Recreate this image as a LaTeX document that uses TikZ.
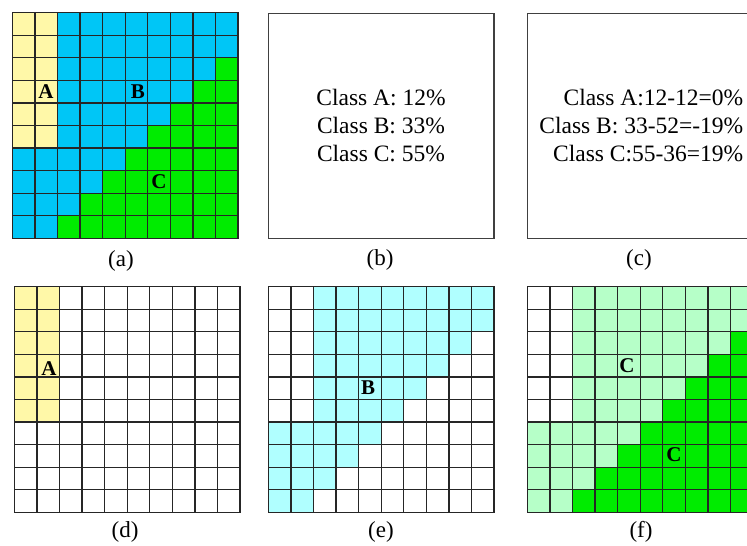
\documentclass[tikz,border=0pt]{standalone}
\usepackage{fontspec}
\setmainfont{Liberation Serif}
\definecolor{cyel}{RGB}{255,248,168}
\definecolor{cblue}{RGB}{0,198,246}
\definecolor{cgreen}{RGB}{0,236,0}
\definecolor{ccyan}{RGB}{176,255,255}
\definecolor{clgreen}{RGB}{182,255,200}
\newcommand\cs{22.57}
\newcommand\gridpanel[5]{%
  \begin{scope}[shift={(#1,#2)}]
    \foreach \ry in {0,...,9}{\foreach \cx in {0,...,9}{%
      \pgfmathtruncatemacro\kk{(\cx<=1 && \ry<=5) ? 1 : ((\cx+\ry>=11) ? 3 : 2)}%
      \ifcase\kk\or\def\cc{#3}\or\def\cc{#4}\or\def\cc{#5}\fi
      \fill[\cc] (\cx*\cs,\ry*\cs) rectangle ++(\cs,\cs);
    }}
    \foreach \i in {0,...,10}{%
      \draw[gridline] (\i*\cs,0) -- (\i*\cs,10*\cs);
      \draw[gridline] (0,\i*\cs) -- (10*\cs,\i*\cs);
    }
  \end{scope}}
\tikzset{
  gridline/.style={black!85, line width=1.3pt, line cap=rect},
  boxline/.style={draw=black!75, line width=1.3pt},
  lbl/.style={font=\fontsize{23}{27}\selectfont, inner sep=0pt},
  ltr/.style={font=\fontsize{21}{24}\bfseries\selectfont, inner sep=0pt},
  cls/.style={font=\fontsize{23.5}{28}\selectfont, inner sep=0pt}
}
\begin{document}
\begin{tikzpicture}[x=1pt,y=-1pt]
\useasboundingbox (0,0) rectangle (747,546);
\clip (0,0) rectangle (747,546);
\fill[white] (0,0) rectangle (747,546);
% (a)
\gridpanel{12.3}{12.6}{cyel}{cblue}{cgreen}
\node[ltr] (la) at (46,92) {A};
\node[ltr] (lb) at (138,92) {B};
\node[ltr] (lc) at (159,182) {C};
% (b)
\draw[boxline] (268.3,13.3) rectangle (494,238.7);
\node[cls, align=center] (tb) at (381,126) {Class A: 12\%\\Class B: 33\%\\Class C: 55\%};
% (c)
\draw[boxline] (527.7,13.3) rectangle (753.7,238.7);
\node[cls, align=right, anchor=east] (tc) at (743.5,126) {Class A:12-12=0\%\\Class B: 33-52=-19\%\\Class C:55-36=19\%};
% (d)
\gridpanel{14.3}{286.7}{cyel}{white}{white}
\node[ltr] (ld) at (49,369) {A};
% (e)
\gridpanel{268.3}{286.7}{white}{ccyan}{white}
\node[ltr] (le) at (368,388) {B};
% (f)
\gridpanel{527.3}{286.7}{white}{clgreen}{cgreen}
\node[ltr] (lf1) at (627,366) {C};
\node[ltr] (lf2) at (674,455) {C};
% captions
\node[lbl] (ca) at (121,261) {(a)};
\node[lbl] (cb) at (380,260) {(b)};
\node[lbl] (cc) at (639,260) {(c)};
\node[lbl] (cd) at (125,532) {(d)};
\node[lbl] (ce) at (381,532) {(e)};
\node[lbl] (cf) at (641,532) {(f)};
\end{tikzpicture}
\end{document}
